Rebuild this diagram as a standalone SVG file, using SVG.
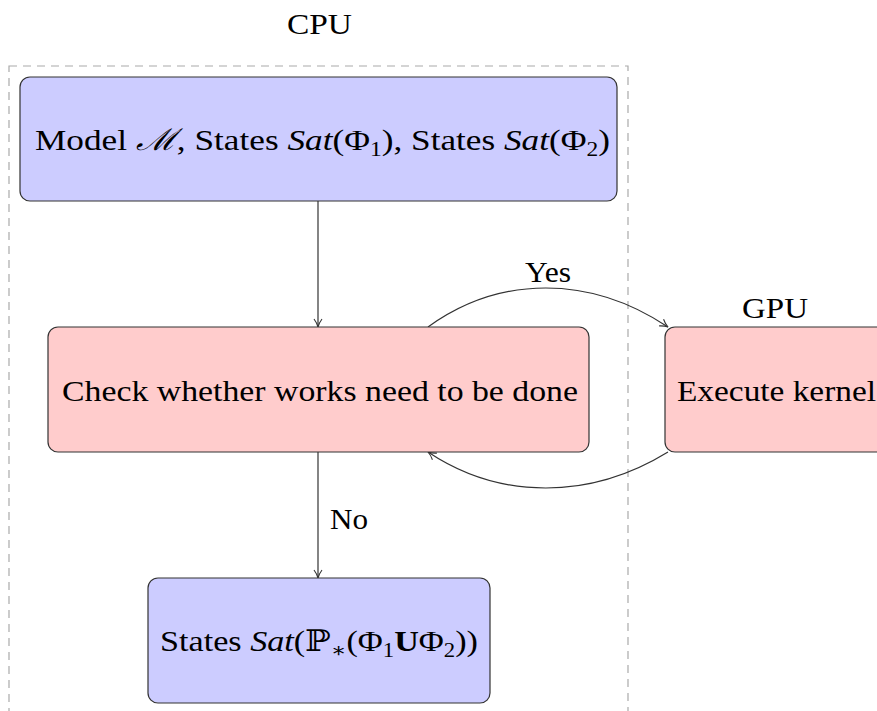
<svg xmlns="http://www.w3.org/2000/svg" width="877" height="711" viewBox="0 0 877 711">
<defs>
<style>
.t{font-family:"Liberation Serif","DejaVu Serif",serif;font-size:30px;fill:#000}
.i{font-style:italic}
.b{font-weight:bold}
.s{font-size:20px}
.blue{fill:#ccccff;stroke:#333;stroke-width:1.2}
.red{fill:#ffcccc;stroke:#333;stroke-width:1.2}
.c{fill:none;stroke:#333;stroke-width:1.2}
</style>
<marker id="ah" markerWidth="12" markerHeight="12" refX="9" refY="5" orient="auto" markerUnits="userSpaceOnUse">
<path d="M1,1 Q5,4 9,5 Q5,6 1,9" fill="none" stroke="#333" stroke-width="1.1"/>
</marker>
</defs>
<rect x="0" y="0" width="877" height="711" fill="#fff"/>
<rect x="9" y="66" width="619" height="700" fill="none" stroke="#aaa" stroke-width="1.2" stroke-dasharray="8,6"/>
<text class="t" x="287" y="34" textLength="65" lengthAdjust="spacingAndGlyphs">CPU</text>
<text class="t" x="742" y="318" textLength="66" lengthAdjust="spacingAndGlyphs">GPU</text>
<g id="connectors">
<line class="c" x1="318" y1="201" x2="318" y2="327" marker-end="url(#ah)"/>
<line class="c" x1="318" y1="452" x2="318" y2="578" marker-end="url(#ah)"/>
<path class="c" d="M428,327 C500,275 590,275 668,327" marker-end="url(#ah)"/>
<path class="c" d="M668,452 C590,500 500,500 428,452" marker-end="url(#ah)"/>
<text class="t" x="525" y="282" textLength="46" lengthAdjust="spacingAndGlyphs">Yes</text>
<text class="t" x="330" y="529" textLength="38" lengthAdjust="spacingAndGlyphs">No</text>
</g>
<g id="n1">
<rect class="blue" x="20" y="77" width="597" height="124" rx="10"/>
<text class="t" x="35" y="150" textLength="575" lengthAdjust="spacingAndGlyphs">Model <tspan class="i">ℳ</tspan>, States <tspan class="i">Sat</tspan>(Φ<tspan class="s" dy="6">1</tspan><tspan dy="-6">), States </tspan><tspan class="i">Sat</tspan>(Φ<tspan class="s" dy="6">2</tspan><tspan dy="-6">)</tspan></text>
</g>
<g id="n2">
<rect class="red" x="48" y="327" width="541" height="125" rx="10"/>
<text class="t" x="62" y="401" textLength="516" lengthAdjust="spacingAndGlyphs">Check whether works need to be done</text>
</g>
<g id="n3">
<rect class="red" x="665" y="327" width="240" height="125" rx="10"/>
<text class="t" x="677" y="401" textLength="199" lengthAdjust="spacingAndGlyphs">Execute kernel</text>
</g>
<g id="n4">
<rect class="blue" x="148" y="578" width="342" height="125" rx="10"/>
<text class="t" x="160" y="651" textLength="318" lengthAdjust="spacingAndGlyphs">States <tspan class="i">Sat</tspan>(ℙ<tspan class="s" dy="6">∗</tspan><tspan dy="-6">(Φ</tspan><tspan class="s" dy="6">1</tspan><tspan dy="-6" class="b">U</tspan>Φ<tspan class="s" dy="6">2</tspan><tspan dy="-6">))</tspan></text>
</g>
</svg>
